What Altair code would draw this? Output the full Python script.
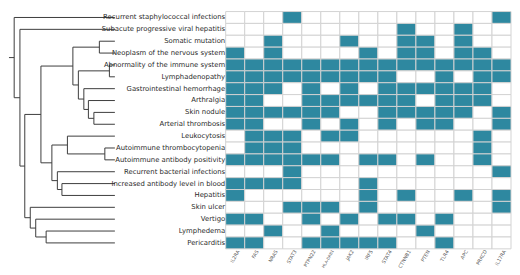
import altair as alt
import pandas as pd

genes = ["IL2RA", "FAS", "NRAS", "STAT3", "PTPN22", "HLA-DRB1", "JAK2", "IRF5",
         "STAT4", "CTNNB1", "PTEN", "TLR4", "APC", "PRKCD", "IL17RA"]

phenotypes = [
    "Recurrent staphylococcal infections",
    "Subacute progressive viral hepatitis",
    "Somatic mutation",
    "Neoplasm of the nervous system",
    "Abnormality of the immune system",
    "Lymphadenopathy",
    "Gastrointestinal hemorrhage",
    "Arthralgia",
    "Skin nodule",
    "Arterial thrombosis",
    "Leukocytosis",
    "Autoimmune thrombocytopenia",
    "Autoimmune antibody positivity",
    "Recurrent bacterial infections",
    "Increased antibody level in blood",
    "Hepatitis",
    "Skin ulcer",
    "Vertigo",
    "Lymphedema",
    "Pericarditis",
]

matrix = [
    [0, 0, 0, 1, 0, 0, 0, 0, 0, 0, 0, 0, 0, 0, 1],
    [0, 0, 0, 0, 0, 0, 0, 0, 0, 1, 0, 0, 1, 0, 0],
    [0, 0, 1, 0, 0, 0, 1, 0, 0, 1, 1, 0, 1, 0, 0],
    [1, 0, 1, 0, 0, 0, 0, 1, 0, 1, 1, 0, 1, 1, 0],
    [1, 1, 1, 1, 1, 1, 1, 1, 1, 1, 1, 1, 1, 1, 1],
    [1, 1, 1, 1, 1, 1, 1, 1, 1, 0, 0, 1, 0, 1, 1],
    [1, 1, 1, 0, 1, 0, 1, 0, 1, 1, 1, 1, 1, 1, 0],
    [1, 1, 0, 0, 1, 1, 1, 1, 1, 1, 0, 1, 1, 1, 0],
    [1, 1, 1, 1, 1, 1, 0, 0, 1, 1, 1, 1, 1, 0, 1],
    [1, 1, 0, 0, 1, 0, 1, 0, 1, 0, 1, 1, 0, 0, 1],
    [0, 1, 1, 1, 0, 1, 1, 0, 0, 0, 0, 0, 0, 1, 0],
    [0, 1, 1, 1, 0, 0, 0, 0, 0, 0, 0, 0, 0, 1, 0],
    [1, 1, 1, 1, 1, 1, 0, 1, 1, 0, 1, 0, 0, 1, 0],
    [0, 0, 0, 1, 0, 0, 0, 0, 0, 0, 0, 0, 0, 0, 1],
    [1, 1, 1, 1, 0, 0, 0, 1, 0, 0, 0, 0, 0, 0, 0],
    [1, 0, 0, 0, 0, 0, 0, 1, 0, 1, 0, 0, 1, 0, 1],
    [0, 0, 0, 1, 1, 1, 0, 1, 0, 0, 0, 0, 0, 0, 1],
    [1, 1, 0, 0, 1, 0, 1, 0, 1, 1, 0, 1, 0, 0, 0],
    [0, 0, 1, 0, 0, 1, 0, 0, 0, 0, 1, 0, 0, 0, 0],
    [1, 1, 0, 0, 1, 1, 1, 1, 1, 0, 0, 1, 0, 0, 0],
]

# dendrogram merges: (child a, child b, linkage height); ints = leaf rows, strings = earlier nodes
merge_a = [2, 4, 8, 7, 6, "n1", "n0", 11, 10, 14, 13, "n8", "n6", 18, 17, 16, "n12", 1, 0]
merge_b = [3, 5, 9, "n2", "n3", "n4", "n5", 12, "n7", 15, "n9", "n10", "n11", 19, "n13", "n14", "n15", "n16", "n17"]
merge_h = [17, 6, 23, 29, 34, 40, 46, 11, 52, 58, 63, 69, 81, 75.3, 86.7, 92.7, 98.7, 104, 110.3]
root_top = 116

# ---- build tables ----
heat_rows = []
for i, p in enumerate(phenotypes):
    for j, g in enumerate(genes):
        heat_rows.append({"phenotype": p, "gene": g, "value": matrix[i][j]})
heat_df = pd.DataFrame(heat_rows)

nodes = {}
segs = []
def pos(c):
    if isinstance(c, int):
        return (c + 0.5, 0.0)
    return nodes[c]
for k, (a, b, h) in enumerate(zip(merge_a, merge_b, merge_h)):
    ya, ha = pos(a)
    yb, hb = pos(b)
    segs.append({"h0": ha, "h1": h, "y0": ya, "y1": ya})
    segs.append({"h0": hb, "h1": h, "y0": yb, "y1": yb})
    segs.append({"h0": h, "h1": h, "y0": ya, "y1": yb})
    nodes["n%d" % k] = ((ya + yb) / 2, h)
ry, rh = nodes["n%d" % (len(merge_h) - 1)]
segs.append({"h0": rh, "h1": root_top, "y0": ry, "y1": ry})
seg_df = pd.DataFrame(segs)

H = 242

dend = alt.Chart(seg_df).mark_rule(color="#3a3a3a", strokeWidth=1).encode(
    x=alt.X("h0:Q", scale=alt.Scale(domain=[0, root_top], reverse=True, nice=False, zero=False), axis=None),
    x2="h1:Q",
    y=alt.Y("y0:Q", scale=alt.Scale(domain=[0, len(phenotypes)], reverse=True, nice=False, zero=False), axis=None),
    y2="y1:Q",
).properties(width=108, height=H)

heat = alt.Chart(heat_df).mark_rect(stroke="#d2d2d2", strokeWidth=1).encode(
    x=alt.X("gene:N", sort=genes, scale=alt.Scale(paddingInner=0, paddingOuter=0),
            axis=alt.Axis(title=None, orient="bottom", labelAngle=-60,
                          labelFontSize=alt.expr("datum.label == 'HLA-DRB1' ? 4 : 5"),
                          labelColor="#555555", labelFont="DejaVu Sans", ticks=False,
                          domain=False, labelPadding=1, labelOffset=3)),
    y=alt.Y("phenotype:N", sort=phenotypes, scale=alt.Scale(paddingInner=0, paddingOuter=0),
            axis=alt.Axis(title=None, ticks=False, domain=False, labelFontSize=7,
                          labelFont="DejaVu Sans", labelColor="#2a2a2a", labelPadding=1,
                          labelLimit=400)),
    color=alt.Color("value:N", scale=alt.Scale(domain=[0, 1], range=["#ffffff", "#2e88a0"]), legend=None),
).properties(width=291, height=H)

chart = alt.hconcat(dend, heat, spacing=113, bounds="flush").properties(
    padding=0
).configure_view(stroke=None)

chart.save("out.html", embed_options={"renderer": "svg", "actions": False})
